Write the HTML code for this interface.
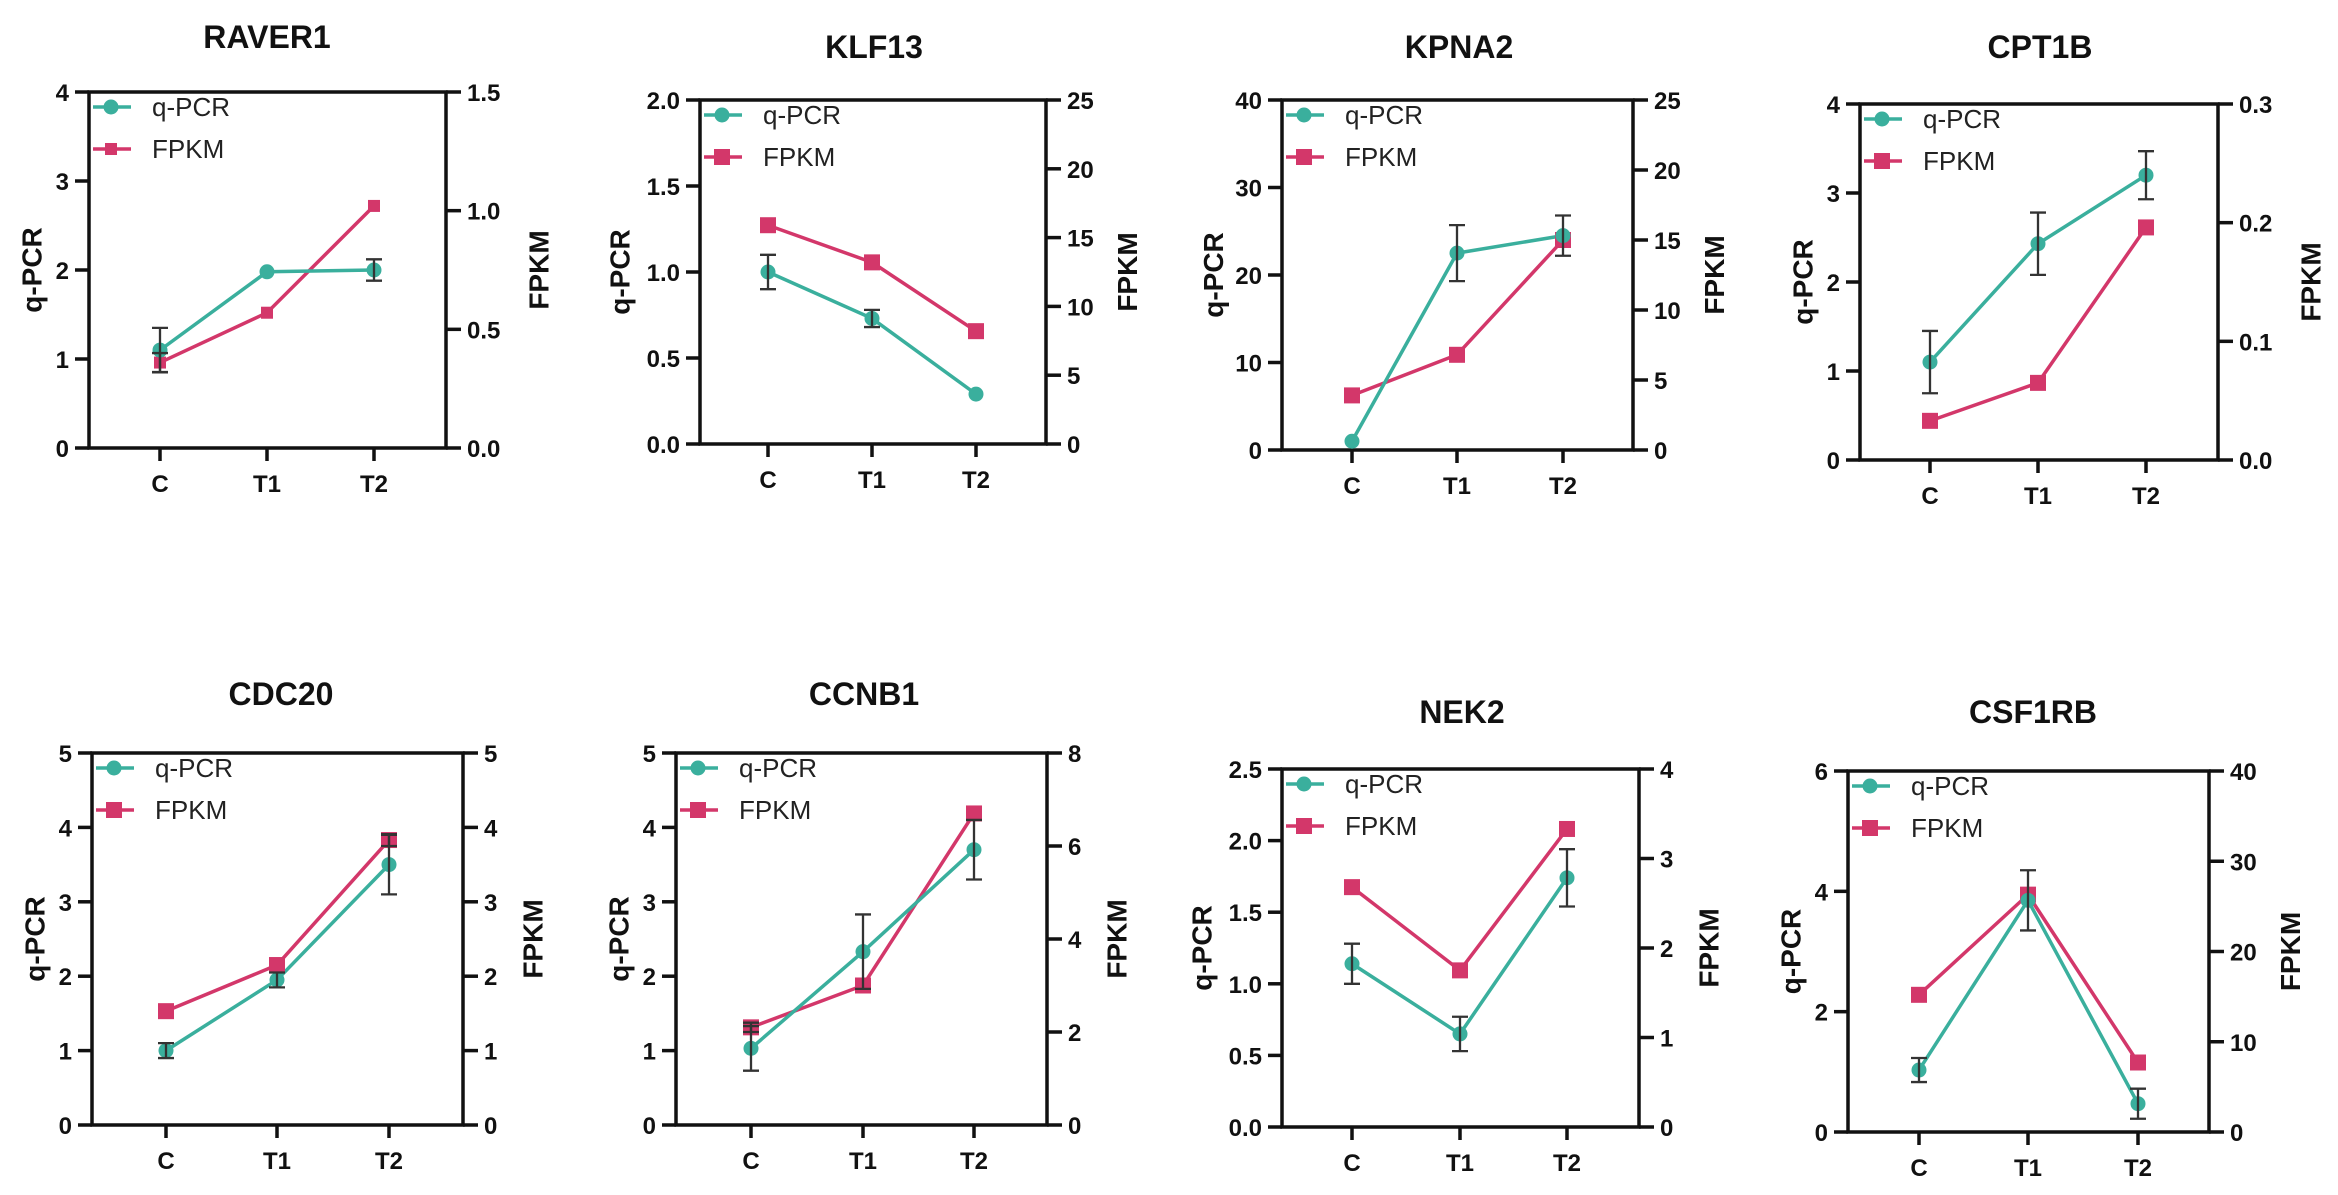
<!DOCTYPE html>
<html><head><meta charset="utf-8"><style>
html,body{margin:0;padding:0;background:#fff;}
svg{display:block;font-family:"Liberation Sans",Arial,sans-serif;}
</style></head><body>
<svg id="fig" width="2338" height="1195" viewBox="0 0 2338 1195" xmlns="http://www.w3.org/2000/svg"></svg>
<script>
const genes = ["RAVER1","KLF13","KPNA2","CPT1B","CDC20","CCNB1","NEK2","CSF1RB"];
const categories = ["C","T1","T2"];
const qpcrValues = [[1.1,1.98,2.0],[1.0,0.73,0.29],[1.0,22.5,24.5],[1.1,2.43,3.2],[1.0,1.95,3.5],[1.03,2.33,3.7],[1.14,0.65,1.74],[1.03,3.85,0.47]];
const qpcrErrors = [[0.25,0,0.12],[0.1,0.05,0],[0,3.2,2.3],[0.35,0.35,0.27],[0.1,0.1,0.4],[0.3,0.5,0.4],[0.14,0.12,0.2],[0.2,0.5,0.25]];
const fpkmValues = [[0.36,0.57,1.02],[15.9,13.2,8.2],[3.9,6.8,15.0],[0.033,0.065,0.196],[1.53,2.15,3.83],[2.1,3.0,6.7],[2.68,1.75,3.33],[15.2,26.3,7.7]];
const fpkmErrors = [[0.04,0,0],[0,0,0],[0,0,0],[0,0,0],[0,0,0.08],[0.1,0,0],[0,0,0],[0,0,0]];
const leftTicks = [["0","1","2","3","4"],["0.0","0.5","1.0","1.5","2.0"],["0","10","20","30","40"],["0","1","2","3","4"],["0","1","2","3","4","5"],["0","1","2","3","4","5"],["0.0","0.5","1.0","1.5","2.0","2.5"],["0","2","4","6"]];
const rightTicks = [["0.0","0.5","1.0","1.5"],["0","5","10","15","20","25"],["0","5","10","15","20","25"],["0.0","0.1","0.2","0.3"],["0","1","2","3","4","5"],["0","2","4","6","8"],["0","1","2","3","4"],["0","10","20","30","40"]];
// layout (pixels): [left, right, top, bottom, titleY, titleX, xC, xT1, xT2, squareSize]
const layout = [
 [89,446,92,448,37,267,160,267,374,12],
 [700,1046,100,444,47,874,768,872,976,16],
 [1282,1633,100,450,47,1459,1352,1457,1563,16],
 [1860,2218,104,460,47,2040,1930,2038,2146,16],
 [92,463,753,1125,694,281,166,277,389,16],
 [676,1047,753,1125,694,864,751,863,974,16],
 [1282,1639,769,1127,712,1462,1352,1460,1567,16],
 [1848,2209,771,1132,712,2033,1919,2028,2138,16]
];
const TEAL="#3aaf9d", RED="#d3376a", NS="http://www.w3.org/2000/svg";
const svg=document.getElementById('fig');
function mk(tag,attrs,parent,text){const e=document.createElementNS(NS,tag);for(const k in attrs)e.setAttribute(k,attrs[k]);if(text!==undefined)e.textContent=text;(parent||svg).appendChild(e);return e;}

genes.forEach((g,i)=>{
  const [L,R,T,B,ty,tx,xc,x1,x2,sq]=layout[i];
  const xs=[xc,x1,x2];
  const grp=mk('g',{});
  
  
  const lt=leftTicks[i], rt=rightTicks[i];
  const lmax=parseFloat(lt[lt.length-1]), rmax=parseFloat(rt[rt.length-1]);
  const yL=v=>B-(v/lmax)*(B-T);
  const yR=v=>B-(v/rmax)*(B-T);
  const t=mk('text',{x:tx,y:ty+11,'text-anchor':'middle','font-size':32,'font-weight':'bold',fill:'#111'},grp,g);
  
  
  const ax=mk('path',{d:`M${L},${T}H${R}V${B}H${L}Z`,fill:'none',stroke:'#111','stroke-width':3.5},grp);
  
  
  lt.forEach(s=>{const y=yL(parseFloat(s));
    mk('line',{x1:L-14,x2:L,y1:y,y2:y,stroke:'#111','stroke-width':3.5},grp);
    const e=mk('text',{x:L-20,y:y+9,'text-anchor':'end','font-size':24,'font-weight':'bold',fill:'#111'},grp,s);
    
    });
  rt.forEach(s=>{const y=yR(parseFloat(s));
    mk('line',{x1:R,x2:R+15,y1:y,y2:y,stroke:'#111','stroke-width':3.5},grp);
    const e=mk('text',{x:R+21,y:y+9,'text-anchor':'start','font-size':24,'font-weight':'bold',fill:'#111'},grp,s);
    
    });
  categories.forEach((c,j)=>{
    mk('line',{x1:xs[j],x2:xs[j],y1:B,y2:B+13,stroke:'#111','stroke-width':3.5},grp);
    const e=mk('text',{x:xs[j],y:B+44,'text-anchor':'middle','font-size':24,'font-weight':'bold',fill:'#111'},grp,c);
    
    });
  const mid=(T+B)/2;
  const lx=L-(11.5*Math.max(...lt.map(s=>s.length))+46);
  const a1=mk('text',{x:lx,y:mid,'text-anchor':'middle','font-size':28,'font-weight':'bold',fill:'#111',transform:`rotate(-90 ${lx} ${mid})`,dy:10},grp,'q-PCR');
  
  
  const rx=R+(11.5*Math.max(...rt.map(s=>s.length))+58);
  const a2=mk('text',{x:rx,y:mid,'text-anchor':'middle','font-size':28,'font-weight':'bold',fill:'#111',transform:`rotate(-90 ${rx} ${mid})`,dy:10},grp,'FPKM');
  
  
  const fp=xs.map((x,j)=>x+','+yR(fpkmValues[i][j])).join(' ');
  const fl=mk('polyline',{points:fp,fill:'none',stroke:RED,'stroke-width':3.5},grp);
  
  
  const qp=xs.map((x,j)=>x+','+yL(qpcrValues[i][j])).join(' ');
  const ql=mk('polyline',{points:qp,fill:'none',stroke:TEAL,'stroke-width':3.5},grp);
  
  
  xs.forEach((x,j)=>{
    const y=yR(fpkmValues[i][j]);
    const s=mk('rect',{x:x-sq/2,y:y-sq/2,width:sq,height:sq,fill:RED},grp);
    
    
  });
  xs.forEach((x,j)=>{
    const y=yL(qpcrValues[i][j]);
    const c=mk('circle',{cx:x,cy:y,r:7.5,fill:TEAL},grp);
    
    
  });
  function err(x,v,e,sc){ if(!e) return;
    const y1=sc(v+e),y2=sc(v-e);
    const p=mk('path',{d:`M${x},${y1}V${y2}M${x-8},${y1}H${x+8}M${x-8},${y2}H${x+8}`,stroke:'#333','stroke-width':2.3,fill:'none'},grp);
    
    }
  xs.forEach((x,j)=>{err(x,qpcrValues[i][j],qpcrErrors[i][j],yL);err(x,fpkmValues[i][j],fpkmErrors[i][j],yR);});
  const lg=mk('g',{},grp);
  
  
  const r1=T+15,r2=T+57;
  mk('line',{x1:L+4,x2:L+42,y1:r1,y2:r1,stroke:TEAL,'stroke-width':3.5},lg);
  mk('circle',{cx:L+22,cy:r1,r:7.5,fill:TEAL},lg);
  const e1=mk('text',{x:L+63,y:r1+9,'font-size':26,fill:'#222'},lg,'q-PCR');
  
  
  mk('line',{x1:L+4,x2:L+42,y1:r2,y2:r2,stroke:RED,'stroke-width':3.5},lg);
  mk('rect',{x:L+22-sq/2,y:r2-sq/2,width:sq,height:sq,fill:RED},lg);
  const e2=mk('text',{x:L+63,y:r2+9,'font-size':26,fill:'#222'},lg,'FPKM');
  
  
});
</script>
</body></html>
